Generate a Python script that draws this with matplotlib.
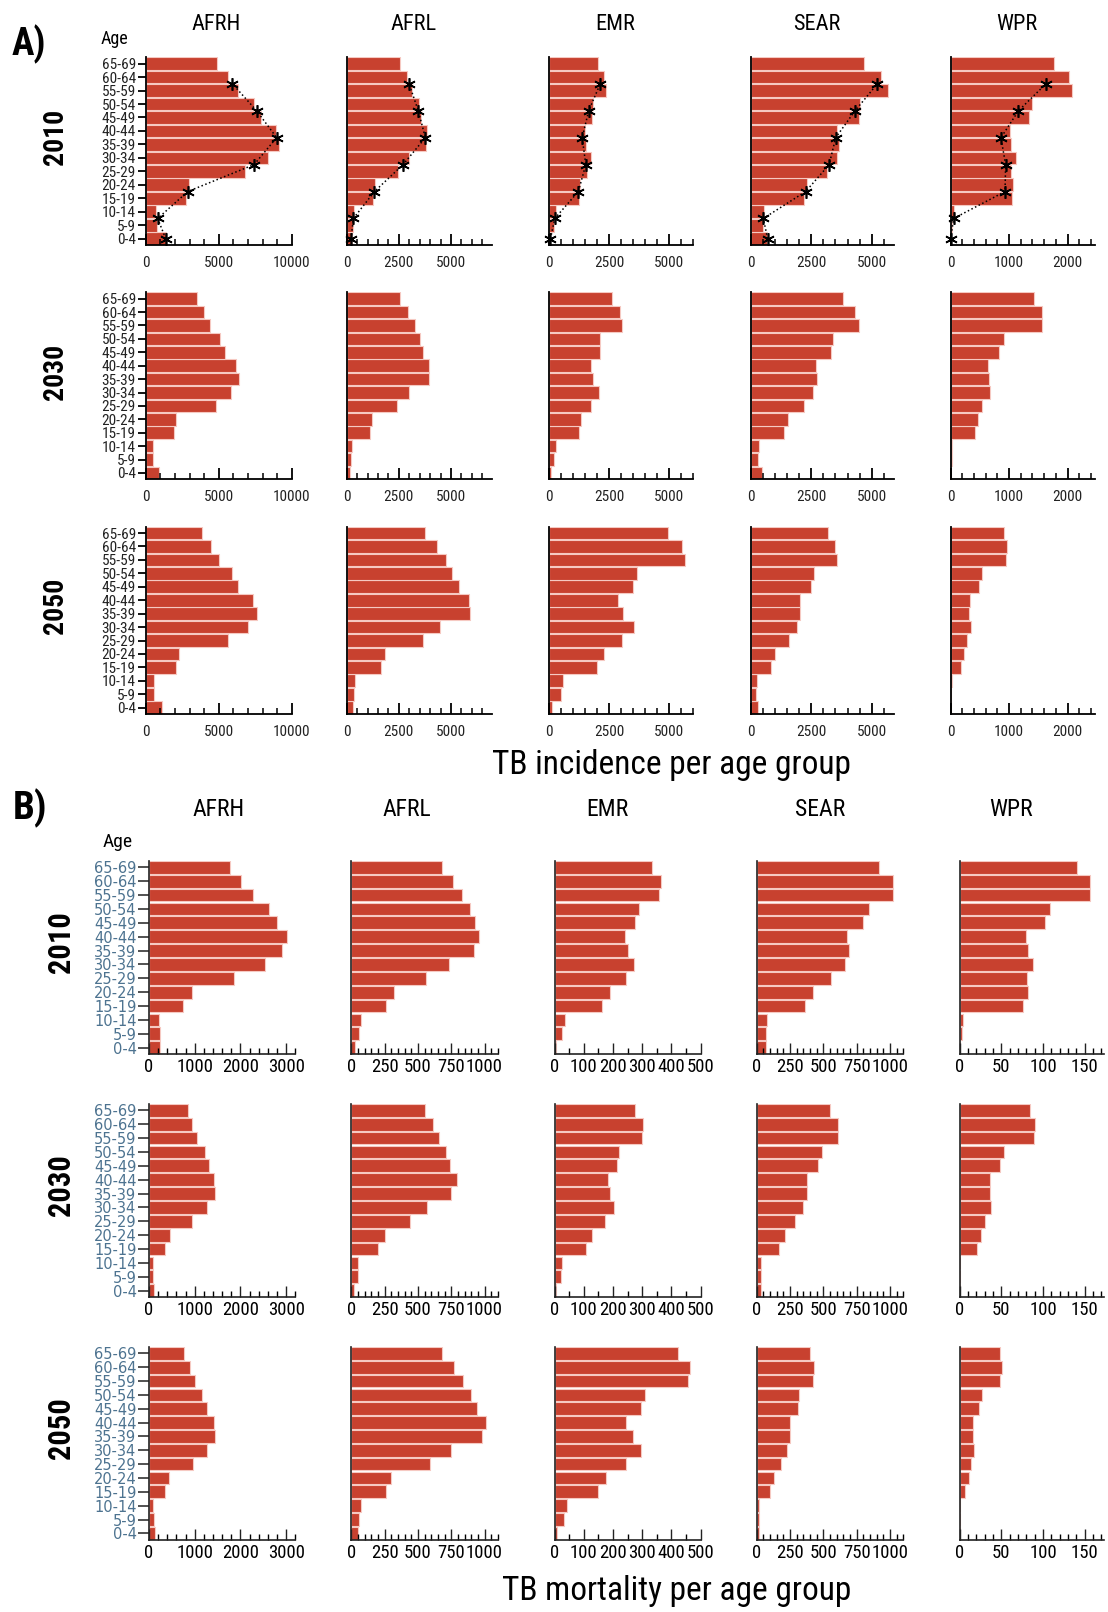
import matplotlib
matplotlib.use("Agg")
import matplotlib.pyplot as plt
from matplotlib import font_manager
from matplotlib.ticker import MultipleLocator
import numpy as np

# ---------------------------------------------------------------- data
ages = ["0-4", "5-9", "10-14", "15-19", "20-24", "25-29", "30-34",
        "35-39", "40-44", "45-49", "50-54", "55-59", "60-64", "65-69"]
regions = ["AFRH", "AFRL", "EMR", "SEAR", "WPR"]
years = ["2010", "2030", "2050"]

# TB incidence per age group (bars listed from 0-4 up to 65-69)
inc_2010_afrh = [1370, 780, 730, 2760, 2950, 6800, 8360, 9160, 8950, 7900, 7440, 6300, 5660, 4910]
inc_2010_afrl = [270, 290, 370, 1250, 1360, 2480, 2990, 3800, 3830, 3560, 3450, 3150, 2910, 2560]
inc_2010_emr = [40, 220, 310, 1240, 1290, 1570, 1750, 1540, 1500, 1780, 1820, 2360, 2290, 2040]
inc_2010_sear = [660, 500, 550, 2200, 2340, 3170, 3580, 3650, 3550, 4490, 4520, 5690, 5390, 4680]
inc_2010_wpr = [10, 30, 60, 1050, 1070, 1030, 1120, 1030, 1010, 1340, 1390, 2070, 2020, 1760]

inc_2030_afrh = [940, 530, 500, 1920, 2050, 4790, 5870, 6390, 6210, 5430, 5110, 4380, 3970, 3490]
inc_2030_afrl = [150, 200, 250, 1130, 1230, 2410, 3000, 3940, 3940, 3650, 3500, 3250, 2960, 2560]
inc_2030_emr = [90, 210, 300, 1240, 1330, 1760, 2060, 1840, 1760, 2140, 2140, 3040, 2950, 2610]
inc_2030_sear = [470, 300, 340, 1360, 1530, 2210, 2590, 2720, 2680, 3310, 3400, 4460, 4290, 3820]
inc_2030_wpr = [10, 20, 30, 410, 460, 530, 670, 650, 630, 830, 920, 1570, 1570, 1430]

inc_2050_afrh = [1100, 570, 550, 2080, 2280, 5620, 6990, 7630, 7330, 6320, 5890, 5000, 4450, 3880]
inc_2050_afrl = [300, 340, 390, 1630, 1820, 3650, 4480, 5910, 5860, 5370, 5070, 4780, 4330, 3740]
inc_2050_emr = [130, 510, 600, 2010, 2270, 3040, 3550, 3080, 2870, 3510, 3640, 5650, 5520, 4930]
inc_2050_sear = [300, 210, 250, 850, 1020, 1570, 1910, 2040, 2040, 2510, 2630, 3570, 3480, 3180]
inc_2050_wpr = [5, 10, 20, 180, 230, 280, 350, 320, 330, 480, 530, 950, 970, 920]

# Reported incidence for 2010 (positions on the age axis and values)
obs_pos = [0, 1.5, 3.5, 5.5, 7.5, 9.5, 11.5]
obs_afrh = [1370, 820, 2880, 7420, 8970, 7600, 5940]
obs_afrl = [210, 320, 1330, 2700, 3770, 3430, 2990]
obs_emr = [60, 240, 1220, 1530, 1380, 1650, 2130]
obs_sear = [700, 520, 2270, 3240, 3510, 4310, 5230]
obs_wpr = [0, 50, 930, 940, 860, 1160, 1630]

# TB mortality per age group
mort_2010_afrh = [240, 240, 220, 750, 950, 1870, 2530, 2920, 3010, 2790, 2620, 2270, 2010, 1780]
mort_2010_afrl = [30, 60, 70, 260, 320, 560, 730, 920, 960, 930, 890, 830, 760, 680]
mort_2010_emr = [6, 25, 37, 163, 191, 244, 273, 252, 241, 277, 288, 358, 365, 333]
mort_2010_sear = [70, 70, 80, 360, 420, 560, 660, 690, 680, 800, 840, 1020, 1020, 920]
mort_2010_wpr = [0.5, 2.8, 4, 76.4, 82, 81.2, 88.4, 82.4, 80, 102.4, 108.8, 156.8, 156.8, 140.8]

mort_2030_afrh = [110, 90, 90, 360, 450, 950, 1260, 1450, 1420, 1310, 1220, 1060, 950, 860]
mort_2030_afrl = [20, 50, 50, 200, 250, 440, 570, 750, 790, 740, 710, 660, 610, 550]
mort_2030_emr = [4, 21, 25, 109, 127, 173, 204, 190, 183, 215, 222, 299, 303, 275]
mort_2030_sear = [30, 30, 30, 170, 210, 290, 350, 380, 380, 460, 490, 610, 610, 550]
mort_2030_wpr = [0.5, 1, 1, 21, 26, 31, 38, 37, 37, 48, 53, 89, 90, 84]

mort_2050_afrh = [130, 100, 80, 340, 440, 960, 1270, 1450, 1420, 1270, 1160, 1000, 890, 770]
mort_2050_afrl = [50, 60, 70, 260, 300, 590, 750, 980, 1010, 940, 900, 840, 770, 680]
mort_2050_emr = [7, 32, 42, 148, 176, 246, 296, 268, 246, 296, 310, 458, 465, 423]
mort_2050_sear = [20, 20, 20, 100, 130, 180, 230, 250, 250, 310, 320, 420, 430, 400]
mort_2050_wpr = [0.3, 0.5, 1, 7, 11, 14, 17, 16, 16, 23, 27, 48, 51, 49]

incidence = {
    "2010": [inc_2010_afrh, inc_2010_afrl, inc_2010_emr, inc_2010_sear, inc_2010_wpr],
    "2030": [inc_2030_afrh, inc_2030_afrl, inc_2030_emr, inc_2030_sear, inc_2030_wpr],
    "2050": [inc_2050_afrh, inc_2050_afrl, inc_2050_emr, inc_2050_sear, inc_2050_wpr],
}
observed = [obs_afrh, obs_afrl, obs_emr, obs_sear, obs_wpr]
mortality = {
    "2010": [mort_2010_afrh, mort_2010_afrl, mort_2010_emr, mort_2010_sear, mort_2010_wpr],
    "2030": [mort_2030_afrh, mort_2030_afrl, mort_2030_emr, mort_2030_sear, mort_2030_wpr],
    "2050": [mort_2050_afrh, mort_2050_afrl, mort_2050_emr, mort_2050_sear, mort_2050_wpr],
}

# axis ranges and tick spacing per region
inc_xmax = [10000, 6950, 6000, 5930, 2470]
inc_major = [5000, 2500, 2500, 2500, 1000]
inc_minor = [1000, 500, 500, 500, 200]
mort_xmax = [3200, 1104, 500, 1100, 173]
mort_major = [1000, 250, 100, 250, 50]
mort_minor = [200, 50, 50, 50, 10]

# ---------------------------------------------------------------- style
available = {f.name for f in font_manager.fontManager.ttflist}
NARROW = next((f for f in ["Liberation Sans Narrow", "Roboto Condensed",
                           "Open Sans Condensed", "DejaVu Sans"] if f in available))
BAR = "#c8412f"
EDGE = "#f6c9c2"
TICKBLUE = "#4d7390"

W, H = 1108, 1612
fig = plt.figure(figsize=(W / 100, H / 100), dpi=100)


def axes_px(left, top, right, bottom):
    """Add an axes given its edges in pixels measured from the top-left corner."""
    return fig.add_axes([left / W, 1 - bottom / H, (right - left) / W, (bottom - top) / H])


def fig_text(x, y, s, **kw):
    """Figure text placed in pixels measured from the top-left corner."""
    return fig.text(x / W, 1 - y / H, s, **kw)


y = np.arange(len(ages))

# ---------------------------------------------------------------- part A: incidence
a_left = [145.7, 346.7, 549.0, 750.7, 950.7]
a_right = [291.7, 491.7, 693.3, 894.3, 1095.0]
a_rows = [(57.3, 245.0), (292.3, 479.3), (526.7, 714.0)]
a_title_x = [216, 414, 615, 817, 1017]

for r, yr in enumerate(years):
    top, bottom = a_rows[r]
    for c, reg in enumerate(regions):
        ax = axes_px(a_left[c], top, a_right[c], bottom)
        ax.barh(y, incidence[yr][c], height=0.94, color=BAR, edgecolor=EDGE, linewidth=0.8)
        if yr == "2010":
            ax.plot(observed[c], obs_pos, linestyle=":", color="black", linewidth=1.1,
                    marker=(6, 2, 0), markersize=9, markeredgewidth=1.2, zorder=3,
                    clip_on=False)
        ax.set_xlim(0, inc_xmax[c])
        ax.set_ylim(-0.47, 13.47)
        for s in ["top", "right"]:
            ax.spines[s].set_visible(False)
        for s in ["left", "bottom"]:
            ax.spines[s].set_linewidth(1.3)
            ax.spines[s].set_color("black")
        ax.xaxis.set_major_locator(MultipleLocator(inc_major[c]))
        ax.xaxis.set_minor_locator(MultipleLocator(inc_minor[c]))
        ax.tick_params(axis="x", which="major", direction="in", length=8, width=1.3,
                       labelsize=11, pad=8, colors="black", labelcolor="#222222")
        ax.tick_params(axis="x", which="minor", direction="in", length=4.5, width=1.1)
        for lab in ax.get_xticklabels():
            lab.set_fontfamily(NARROW)
        if c == 0:
            ax.set_yticks(y)
            ax.set_yticklabels(ages, fontfamily=NARROW, fontsize=11, color="#222222")
            ax.tick_params(axis="y", direction="out", length=6, width=1.3, pad=1)
            fig_text(55, (top + bottom - 28) / 2, yr, rotation=90, ha="center",
                     va="center", fontsize=20, fontweight="bold", fontfamily=NARROW)
        else:
            ax.set_yticks([])
        if r == 0:
            fig_text(a_title_x[c], 25, reg, ha="center", va="center", fontsize=16,
                     fontfamily=NARROW)

fig_text(128, 39, "Age", ha="right", va="center", fontsize=13, fontfamily=NARROW)
fig_text(12, 44, "A)", ha="left", va="center", fontsize=27, fontweight="bold",
         fontfamily=NARROW)
fig_text(671, 765, "TB incidence per age group", ha="center", va="center",
         fontsize=24, fontfamily=NARROW)

# ---------------------------------------------------------------- part B: mortality
b_left = [149.0, 351.4, 554.5, 756.7, 959.6]
b_right = [295.3, 498.4, 700.5, 903.4, 1104.0]
b_rows = [(860.7, 1054.3), (1103.7, 1297.3), (1346.7, 1540.0)]
b_title_x = [219, 407, 607, 820, 1011]

for r, yr in enumerate(years):
    top, bottom = b_rows[r]
    for c, reg in enumerate(regions):
        ax = axes_px(b_left[c], top, b_right[c], bottom)
        ax.barh(y, mortality[yr][c], height=0.92, color=BAR, edgecolor=EDGE, linewidth=0.8)
        ax.set_xlim(0, mort_xmax[c])
        ax.set_ylim(-0.48, 13.48)
        for s in ["top", "right"]:
            ax.spines[s].set_visible(False)
        for s in ["left", "bottom"]:
            ax.spines[s].set_linewidth(1.2)
            ax.spines[s].set_color("#222222")
        ax.xaxis.set_major_locator(MultipleLocator(mort_major[c]))
        ax.xaxis.set_minor_locator(MultipleLocator(mort_minor[c]))
        ax.tick_params(axis="x", which="major", direction="in", length=8, width=1.0,
                       labelsize=13.5, pad=3, colors="#222222", labelcolor="black")
        ax.tick_params(axis="x", which="minor", direction="in", length=4, width=1.0)
        for lab in ax.get_xticklabels():
            lab.set_fontfamily(NARROW)
        if c == 0:
            ax.set_yticks(y)
            ax.set_yticklabels(ages, fontsize=10.5, color=TICKBLUE)
            ax.tick_params(axis="y", direction="out", length=8, width=1.2, pad=1,
                           colors="#333333", labelcolor=TICKBLUE)
            fig_text(61, (top + bottom - 30) / 2, yr, rotation=90, ha="center",
                     va="center", fontsize=22, fontweight="bold", fontfamily=NARROW)
        else:
            ax.set_yticks([])
        if r == 0:
            fig_text(b_title_x[c], 810, reg, ha="center", va="center", fontsize=17,
                     fontfamily=NARROW)

fig_text(133, 842, "Age", ha="right", va="center", fontsize=14, fontfamily=NARROW)
fig_text(13, 808, "B)", ha="left", va="center", fontsize=28, fontweight="bold",
         fontfamily=NARROW)
fig_text(677, 1591, "TB mortality per age group", ha="center", va="center",
         fontsize=24, fontfamily=NARROW)

fig.savefig("out.png", dpi=100)
